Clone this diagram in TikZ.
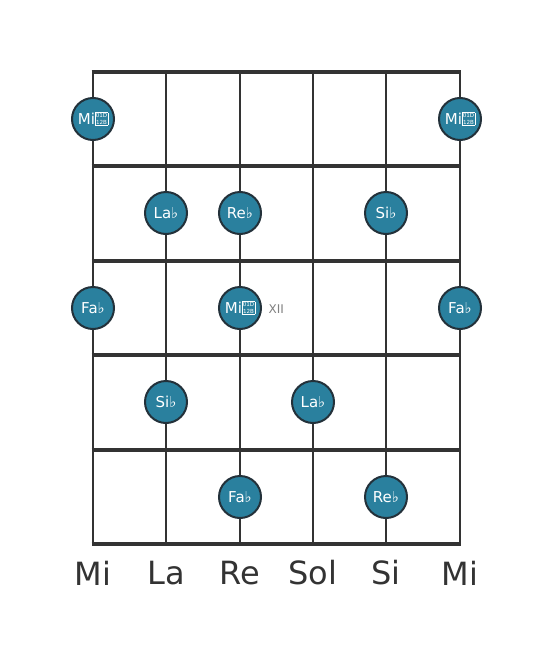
\documentclass[tikz,border=0pt]{standalone}
\usepackage{fontspec}
\setmainfont{DejaVu Sans}
\definecolor{boardcol}{HTML}{333333}
\definecolor{notefill}{HTML}{2A809E}
\definecolor{noteedge}{HTML}{23313A}
\newcommand\tofubox{{\setlength\fboxsep{0.5pt}\setlength\fboxrule{0.35pt}\raisebox{0pt}{\fbox{\fontsize{5.6}{5.4}\selectfont\shortstack{01D\\12B}}}}}
\tikzset{
  stringline/.style={draw=boardcol, line width=2.6pt},
  fretline/.style={draw=boardcol, line width=4.6pt},
  note/.style={circle, minimum size=42pt, inner sep=0pt, draw=noteedge, line width=2pt, fill=notefill, text=white, font=\fontsize{15}{16}\selectfont},
  strlabel/.style={text=boardcol, font=\fontsize{32}{34}\selectfont},
  fretnum/.style={text=gray, font=\fontsize{12}{13}\selectfont, anchor=west}
}
\begin{document}
\begin{tikzpicture}[x=1pt,y=-1pt]
\useasboundingbox (0,0) rectangle (553,656);
% strings
\foreach \x in {93,166,240,313,386,460} {\draw[stringline] (\x,72) -- (\x,544);}
% frets
\foreach \y in {72,166,261,355,450,544} {\draw[fretline] (91.7,\y) -- (461.3,\y);}
% notes
\node[note] (n1a) at (93,119) {Mi\tofubox};
\node[note] (n1b) at (460,119) {Mi\tofubox};
\node[note] (n2a) at (166,213) {La♭};
\node[note] (n2b) at (240,213) {Re♭};
\node[note] (n2c) at (386,213) {Si♭};
\node[note] (n3a) at (93,308) {Fa♭};
\node[note] (n3b) at (240,308) {Mi\tofubox};
\node[note] (n3c) at (460,308) {Fa♭};
\node[fretnum] (xii) at (265,309) {XII};
\node[note] (n4a) at (166,402) {Si♭};
\node[note] (n4b) at (313,402) {La♭};
\node[note] (n5a) at (240,497) {Fa♭};
\node[note] (n5b) at (386,497) {Re♭};
% string labels
\node[strlabel] (s1) at (93,573) {Mi};
\node[strlabel] (s2) at (166,573) {La};
\node[strlabel] (s3) at (240,573) {Re};
\node[strlabel] (s4) at (313,573) {Sol};
\node[strlabel] (s5) at (386,573) {Si};
\node[strlabel] (s6) at (460,573) {Mi};
\end{tikzpicture}
\end{document}
